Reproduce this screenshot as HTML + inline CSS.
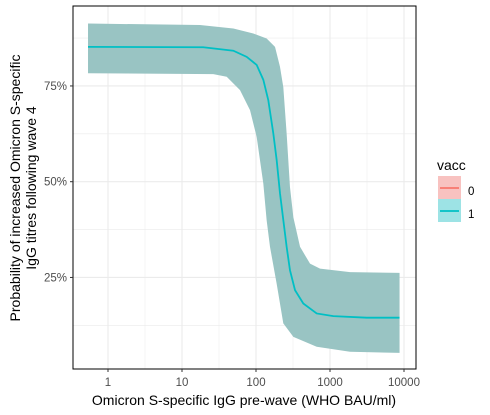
<!DOCTYPE html>
<html><head><meta charset="utf-8"><style>
html,body{margin:0;padding:0;background:#fff;}
svg{display:block;font-family:"Liberation Sans",sans-serif;}
</style></head><body>
<svg id="chart" width="490" height="415"></svg>
<script>
const xTickValues=[1,10,100,1000,10000];
const xTickLabels=["1","10","100","1000","10000"];
const yTickValues=[0.25,0.5,0.75];
const yTickLabels=["25%","50%","75%"];
const lineX=[-0.27,1.288,1.694,1.874,2.009,2.099,2.166,2.234,2.279,2.324,2.369,2.414,2.459,2.527,2.639,2.82,3.045,3.495,3.94];
const lineP=[0.852,0.851,0.842,0.826,0.805,0.766,0.713,0.626,0.557,0.470,0.400,0.330,0.269,0.217,0.182,0.156,0.149,0.145,0.145];
const upperX=[-0.27,1.243,1.694,1.964,2.144,2.257,2.324,2.369,2.414,2.459,2.505,2.595,2.73,2.865,3.27,3.94];
const upperP=[0.913,0.909,0.900,0.887,0.874,0.852,0.800,0.747,0.626,0.486,0.407,0.330,0.286,0.273,0.264,0.262];
const lowerX=[-0.27,1.423,1.604,1.784,1.919,2.009,2.099,2.144,2.189,2.279,2.369,2.505,2.82,3.27,3.94];
const lowerP=[0.783,0.781,0.774,0.739,0.687,0.617,0.495,0.399,0.330,0.234,0.130,0.095,0.069,0.056,0.053];
const NS="http://www.w3.org/2000/svg";
const svg=document.getElementById('chart');
const L=73,R=416,T=6,B=369;
function xs(lg){return 108+lg*74;}
function ys(p){return 181.7-(p-0.5)*383;}
function mk(tag,attrs,parent){const e=document.createElementNS(NS,tag);for(const k in attrs)e.setAttribute(k,attrs[k]);(parent||svg).appendChild(e);return e;}
const grid=mk('g',{});


xTickValues.forEach(v=>{const lg=Math.log10(v);
 mk('line',{x1:xs(lg),x2:xs(lg),y1:T,y2:B,stroke:'#ebebeb','stroke-width':1.1},grid);
 if(lg<4) mk('line',{x1:xs(lg+0.5),x2:xs(lg+0.5),y1:T,y2:B,stroke:'#ebebeb','stroke-width':0.55},grid);});
[0.125,0.375,0.625,0.875].forEach(p=>mk('line',{x1:L,x2:R,y1:ys(p),y2:ys(p),stroke:'#ebebeb','stroke-width':0.55},grid));
yTickValues.forEach(p=>mk('line',{x1:L,x2:R,y1:ys(p),y2:ys(p),stroke:'#ebebeb','stroke-width':1.1},grid));
let d='';
upperX.forEach((x,i)=>{d+=(i?'L':'M')+xs(x)+','+ys(upperP[i]);});
for(let i=lowerX.length-1;i>=0;i--)d+='L'+xs(lowerX[i])+','+ys(lowerP[i]);
const band=mk('path',{d:d+'Z',fill:'#99c4c3'});


let ld='';lineX.forEach((x,i)=>{ld+=(i?'L':'M')+xs(x)+','+ys(lineP[i]);});
const line=mk('path',{d:ld,fill:'none',stroke:'#00bfc4','stroke-width':1.8});


const frame=mk('rect',{x:L,y:T,width:R-L,height:B-T,fill:'none',stroke:'#000','stroke-width':1});


xTickValues.forEach((v,i)=>{const x=xs(Math.log10(v));
 mk('line',{x1:x,x2:x,y1:B,y2:B+3,stroke:'#333'});
 const t=mk('text',{x:x,y:B+17,'text-anchor':'middle','font-size':11.5,fill:'#4d4d4d'});t.textContent=xTickLabels[i];
 
 });
yTickValues.forEach((p,i)=>{const y=ys(p);
 mk('line',{x1:L-3,x2:L,y1:y,y2:y,stroke:'#333'});
 const t=mk('text',{x:L-6,y:y+4,'text-anchor':'end','font-size':11.5,fill:'#4d4d4d'});t.textContent=yTickLabels[i];
 
 });
</script>
<svg style="position:absolute;left:0;top:0" width="490" height="415">
<text x="244" y="405" text-anchor="middle" font-size="14" fill="#000" font-family="Liberation Sans,sans-serif">Omicron S-specific IgG pre-wave (WHO BAU/ml)</text>
<g transform="translate(20,188) rotate(-90)" font-size="14" font-family="Liberation Sans,sans-serif">
<text x="0" y="0" text-anchor="middle">Probability of increased Omicron S-specific</text>
<text x="0" y="16" text-anchor="middle">IgG titres following wave 4</text>
</g>
<g font-family="Liberation Sans,sans-serif">
<text x="437" y="170" font-size="14">vacc</text>
<rect x="438" y="176" width="23" height="23" fill="#f8c2c0"/>
<line x1="440" x2="459" y1="188" y2="188" stroke="#f8766d" stroke-width="1.8"/>
<rect x="438" y="199" width="23" height="23" fill="#9de3e5"/>
<line x1="440" x2="459" y1="211" y2="211" stroke="#00bfc4" stroke-width="1.8"/>
<text x="468" y="195" font-size="11.5">0</text>
<text x="468" y="218" font-size="11.5">1</text>
</g>
</svg>
</body></html>
